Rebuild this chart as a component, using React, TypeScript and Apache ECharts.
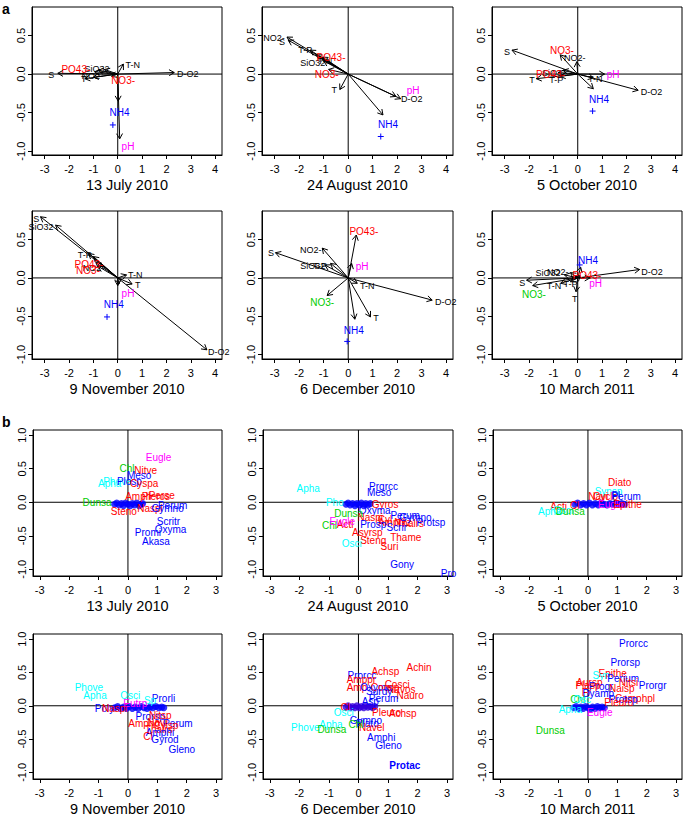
import React, { useEffect, useRef } from "react";
import * as echarts from "echarts";

type Arrow = [string, number, number];
type Label = [string, number, number, string];
type Pt = [number, number];

const COLORS: Record<string, string> = {
  k: "#000000",
  r: "#ff0000",
  b: "#0000ff",
  g: "#00cd00",
  c: "#00ffff",
  m: "#ff00ff",
};
const FONT = "'Liberation Sans', Arial, Helvetica, sans-serif";

const dateTitles = ["13 July 2010", "24 August 2010", "5 October 2010", "9 November 2010", "6 December 2010", "10 March 2011"];
const envXTicks = [-3, -2, -1, 0, 1, 2, 3, 4];
const envYTicks = [-1, -0.5, 0, 0.5];
const spXTicks = [-3, -2, -1, 0, 1, 2, 3];
const spYTicks = [-1, -0.5, 0, 0.5, 1];

// ---------- a: environmental vectors ----------
const julyArrows: Arrow[] = [
  ["D-O2", 2.32, 0.02], ["S", -2.46, 0.01], ["T-N", 0.23, 0.13], ["pH", 0.08, -0.84], ["NH4", 0.02, -0.35],
  ["T", -1.35, -0.06], ["PO43-", -0.95, 0.03], ["SiO32", -0.55, 0.06], ["NO2-", -0.8, 0.05], ["T-P", -1.0, -0.04], ["NO3-", -0.25, -0.03],
];
const julyEnvLabels: Label[] = [
  ["D-O2", 2.87, 0.0, "k"], ["S", -2.73, -0.01, "k"], ["T-N", 0.62, 0.12, "k"], ["T", -1.4, -0.06, "k"],
  ["NO2-", -1.05, -0.02, "k"], ["SiO32", -0.85, 0.07, "k"], ["PO43-", -1.72, 0.06, "r"], ["NO3-", 0.22, -0.08, "r"],
  ["NH4", 0.07, -0.5, "b"], ["pH", 0.42, -0.94, "m"],
];
const julyNH4: Pt[] = [[-0.2, -0.66]];

const augArrows: Arrow[] = [
  ["NO2-", -2.5, 0.48], ["S", -2.45, 0.44], ["T-P", -1.55, 0.31], ["T-N", -1.3, 0.25], ["PO43-", -1.05, 0.22], ["SiO32", -1.0, 0.17],
  ["NO3-", -0.8, 0.06], ["T", -0.34, -0.2], ["D-O2", 2.14, -0.32], ["pH", 1.95, -0.29], ["NH4", 1.42, -0.53],
];
const augEnvLabels: Label[] = [
  ["NO2-", -3.03, 0.47, "k"], ["S", -2.7, 0.41, "k"], ["T-P", -1.75, 0.31, "k"], ["SiO32", -1.45, 0.14, "k"], ["T-N", -0.95, 0.17, "k"],
  ["PO43-", -0.7, 0.22, "r"], ["NO3-", -0.88, -0.01, "r"], ["T", -0.57, -0.21, "k"], ["pH", 2.65, -0.21, "m"],
  ["D-O2", 2.6, -0.32, "k"], ["NH4", 1.63, -0.66, "b"],
];
const augNH4: Pt[] = [[1.33, -0.81]];

const octArrows: Arrow[] = [
  ["S", -2.7, 0.31], ["NO3-", -0.72, 0.25], ["NO2-", -0.04, 0.16], ["PO43-", -0.8, 0.02], ["SiO32", -0.6, 0.05], ["T", -1.7, -0.06],
  ["T-P", -0.72, -0.03], ["T-N", 0.64, -0.05], ["pH", 1.1, 0.0], ["D-O2", 2.48, -0.21], ["NH4", 0.64, -0.19],
];
const octEnvLabels: Label[] = [
  ["S", -2.9, 0.28, "k"], ["NO3-", -0.65, 0.3, "r"], ["NO2-", -0.12, 0.21, "k"], ["SiO32", -0.95, 0.02, "k"], ["PO43-", -1.12, 0.0, "r"],
  ["T", -1.88, -0.08, "k"], ["T-P", -0.88, -0.08, "k"], ["T-N", 0.72, -0.06, "k"], ["pH", 1.45, -0.01, "m"],
  ["D-O2", 3.03, -0.23, "k"], ["NH4", 0.87, -0.33, "b"],
];
const octNH4: Pt[] = [[0.61, -0.48]];

const novArrows: Arrow[] = [
  ["S", -3.17, 0.8], ["SiO32", -2.55, 0.69], ["T-P", -1.2, 0.32], ["NO2-", -1.0, 0.28], ["PO43-", -0.9, 0.2], ["NO3-", -0.8, 0.15],
  ["T-N", 0.36, 0.04], ["T", 0.59, -0.08], ["pH", 0.05, -0.08], ["D-O2", 3.66, -0.94], ["NH4", 0.0, -0.1],
];
const novEnvLabels: Label[] = [
  ["S", -3.35, 0.77, "k"], ["SiO32", -3.15, 0.67, "k"], ["T-P", -1.35, 0.3, "k"], ["NO2-", -1.0, 0.13, "k"],
  ["PO43-", -1.18, 0.17, "r"], ["NO3-", -1.22, 0.1, "r"], ["T-N", 0.72, 0.04, "k"], ["T", 0.82, -0.09, "k"],
  ["pH", 0.42, -0.21, "m"], ["D-O2", 4.15, -0.97, "k"], ["NH4", -0.16, -0.35, "b"],
];
const novNH4: Pt[] = [[-0.44, -0.51]];

const decArrows: Arrow[] = [
  ["S", -2.97, 0.33], ["NO2-", -1.06, 0.39], ["SiO32", -0.72, 0.19], ["T-P", -0.95, 0.17], ["PO43-", 0.33, 0.56], ["pH", 0.14, 0.19],
  ["T-N", 0.37, -0.07], ["D-O2", 3.43, -0.29], ["T", 0.91, -0.51], ["NH4", 0.27, -0.54], ["NO3-", -0.86, -0.23],
];
const decEnvLabels: Label[] = [
  ["S", -3.15, 0.33, "k"], ["NO2-", -1.53, 0.37, "k"], ["SiO32", -1.45, 0.15, "k"], ["T-P", -1.15, 0.16, "k"],
  ["PO43-", 0.64, 0.61, "r"], ["pH", 0.57, 0.15, "m"], ["T-N", 0.78, -0.11, "k"], ["D-O2", 3.98, -0.31, "k"],
  ["T", 1.14, -0.53, "k"], ["NH4", 0.23, -0.69, "b"], ["NO3-", -1.06, -0.32, "g"],
];
const decNH4: Pt[] = [[-0.04, -0.83]];

const marArrows: Arrow[] = [
  ["D-O2", 2.54, 0.11], ["S", -2.1, -0.03], ["NO3-", -1.85, -0.1], ["T-N", -0.7, -0.07], ["SiO32", -0.55, 0.04], ["NO2-", -0.3, 0.07],
  ["PO43-", 0.1, 0.03], ["NH4", 0.12, 0.14], ["pH", 0.5, 0.0], ["T", -0.07, -0.18], ["T-P", -0.3, -0.05],
];
const marEnvLabels: Label[] = [
  ["D-O2", 3.05, 0.08, "k"], ["S", -2.28, -0.06, "k"], ["NO3-", -1.8, -0.22, "g"], ["T-N", -0.97, -0.11, "k"],
  ["SiO32", -1.22, 0.06, "k"], ["NO2-", -0.82, 0.08, "k"], ["T-P", -0.3, -0.08, "k"], ["PO43-", 0.38, 0.03, "r"],
  ["NH4", 0.42, 0.23, "b"], ["pH", 0.73, -0.07, "m"], ["T", -0.12, -0.27, "k"],
];
const marNH4: Pt[] = [[0.08, 0.17]];

// ---------- b: species scores ----------
const julySpecies: Label[] = [
  ["Eugle", 1.04, 0.67, "m"], ["Chl", -0.03, 0.5, "g"], ["Nitve", 0.6, 0.47, "r"], ["Meso", 0.38, 0.4, "b"],
  ["Apha", -0.62, 0.28, "c"], ["Phove", -0.36, 0.31, "c"], ["Plosp", 0.05, 0.31, "b"], ["Cyspa", 0.55, 0.28, "r"],
  ["Amph", 0.35, 0.08, "r"], ["Pleros", 0.95, 0.09, "r"], ["Perse", 1.15, 0.1, "r"], ["Dunsa", -1.05, -0.01, "g"],
  ["Steno", -0.14, -0.14, "r"], ["Naspi", 0.75, -0.1, "r"], ["Perum", 1.52, -0.05, "b"], ["Gymno", 1.35, -0.1, "b"],
  ["Scritr", 1.38, -0.28, "b"], ["Oxyma", 1.45, -0.4, "b"], ["Promi", 0.68, -0.45, "b"], ["Akasa", 0.95, -0.58, "b"],
];
const julyCluster: Pt[] = [
  [-0.45, -0.03], [-0.38, -0.01], [-0.3, -0.04], [-0.22, -0.02], [-0.15, -0.05], [-0.08, -0.01], [0.0, -0.03],
  [0.08, -0.05], [0.15, -0.02], [0.22, -0.04], [0.3, -0.01], [0.38, -0.05], [0.45, -0.03], [0.5, -0.02],
];

const augSpecies: Label[] = [
  ["Apha", -1.7, 0.21, "c"], ["Prgrcc", 0.85, 0.24, "b"], ["Meso", 0.7, 0.15, "b"], ["Pho", -0.8, -0.01, "c"],
  ["Gyros", 0.9, -0.03, "r"], ["Oxyma", 0.55, -0.12, "b"], ["Dunsa", -0.33, -0.17, "g"], ["Naspi", 0.4, -0.22, "r"],
  ["Cyl", 0.9, -0.25, "r"], ["Amph", 1.1, -0.3, "r"], ["Nitz", 1.5, -0.3, "r"], ["Thalrs", 1.75, -0.32, "r"],
  ["Perum", 1.58, -0.2, "b"], ["Gymno", 1.93, -0.23, "b"], ["Protsp", 2.45, -0.3, "b"], ["Scrir", 1.3, -0.38, "b"],
  ["Chl", -0.98, -0.34, "g"], ["Acti", -0.45, -0.33, "r"], ["Eugle", -0.55, -0.29, "m"], ["Prosp", 0.5, -0.33, "b"],
  ["Asyrsp", 0.3, -0.45, "r"], ["Thame", 1.6, -0.53, "r"], ["Steng", 0.5, -0.57, "r"], ["Osci", -0.23, -0.62, "c"],
  ["Suri", 1.05, -0.66, "r"], ["Gony", 1.48, -0.93, "b"], ["Pro", 3.05, -1.07, "b"],
];
const augCluster: Pt[] = [
  [-0.42, -0.03], [-0.35, -0.01], [-0.28, -0.04], [-0.2, -0.02], [-0.12, -0.05], [-0.05, -0.02], [0.03, -0.04],
  [0.1, -0.01], [0.18, -0.05], [0.25, -0.02], [0.32, -0.04], [0.4, -0.02],
];

const octSpecies: Label[] = [
  ["Diato", 1.08, 0.3, "r"], ["Synsp", 0.7, 0.16, "c"], ["Navi", 0.35, 0.08, "r"], ["Cyclo", 0.6, 0.09, "r"],
  ["Pl", 0.95, 0.1, "b"], ["Perum", 1.3, 0.09, "b"], ["Euglo", 0.78, -0.03, "m"], ["Epithe", 1.35, -0.04, "r"],
  ["Acti", -1.0, -0.06, "r"], ["Cl", -0.45, -0.05, "r"], ["Apha", -1.3, -0.14, "c"], ["Osci", -0.85, -0.13, "c"],
  ["Dunsa", -0.6, -0.14, "g"],
];
const octCluster: Pt[] = [
  [-0.45, -0.03], [-0.35, -0.01], [-0.25, -0.04], [-0.15, -0.02], [-0.05, -0.04], [0.05, -0.01], [0.15, -0.04],
  [0.25, -0.02], [0.35, -0.04], [0.45, -0.01], [0.55, -0.03], [0.65, -0.04], [0.75, -0.02], [0.85, -0.03],
  [0.95, -0.01], [1.05, -0.03], [1.15, -0.02], [1.25, -0.03],
];

const novSpecies: Label[] = [
  ["Phove", -1.33, 0.28, "c"], ["Apha", -1.12, 0.15, "c"], ["Osci", 0.08, 0.15, "c"], ["Prorli", 1.21, 0.11, "b"],
  ["Sp", 0.75, 0.08, "c"], ["Eutrp", 0.25, 0.04, "m"], ["Poly", -0.8, -0.04, "b"], ["Naspi", -0.45, -0.04, "r"],
  ["Prorsp", 0.76, -0.16, "b"], ["Nitsp", 1.1, -0.14, "r"], ["Ampho", 0.55, -0.27, "r"], ["Navi", 1.0, -0.25, "r"],
  ["Perum", 1.7, -0.26, "b"], ["Cylsp", 1.3, -0.3, "r"], ["Thalrs", 1.05, -0.35, "r"], ["Amphi", 1.09, -0.4, "b"],
  ["Cl", 0.68, -0.46, "r"], ["Gyrod", 1.26, -0.51, "b"], ["Gleno", 1.83, -0.66, "b"],
];
const novCluster: Pt[] = [
  [-0.45, -0.03], [-0.35, -0.01], [-0.25, -0.04], [-0.15, -0.02], [-0.05, -0.04], [0.05, -0.01], [0.15, -0.04],
  [0.25, -0.02], [0.35, -0.04], [0.45, -0.01], [0.55, -0.03], [0.65, -0.04], [0.75, -0.02], [0.85, -0.03],
  [0.95, -0.01], [1.05, -0.03], [1.15, -0.02], [1.22, -0.03],
];

const decSpecies: Label[] = [
  ["Achin", 2.05, 0.58, "r"], ["Achsp", 0.91, 0.51, "r"], ["Prorcc", 0.12, 0.45, "b"], ["Amppr", 0.1, 0.4, "r"],
  ["Cosci", 1.31, 0.32, "r"], ["Amp", -0.05, 0.27, "r"], ["Oxyma", 0.6, 0.28, "b"], ["Cocsp", 0.9, 0.28, "r"],
  ["Navos", 1.45, 0.25, "r"], ["Surdy", 0.7, 0.22, "b"], ["Nauro", 1.75, 0.16, "r"], ["Perum", 0.85, 0.11, "b"],
  ["Asp", 0.4, 0.06, "b"], ["Cl", -0.45, -0.02, "r"], ["Achsp", 1.5, -0.12, "r"], ["Pleuro", 0.95, -0.1, "r"],
  ["Osci", -0.5, -0.1, "c"], ["Gymno", 0.25, -0.22, "b"], ["Plato", 0.3, -0.27, "b"], ["Navel", 0.45, -0.33, "r"],
  ["Chl", -0.08, -0.28, "g"], ["Apha", -0.93, -0.28, "c"], ["Phove", -1.8, -0.32, "c"], ["Dunsa", -0.9, -0.35, "g"],
  ["Amphi", 0.77, -0.47, "b"], ["Gleno", 1.02, -0.59, "b"], ["Protac", 1.57, -0.89, "b"],
];
const decCluster: Pt[] = [
  [-0.42, -0.02], [-0.35, 0.0], [-0.28, -0.03], [-0.2, -0.01], [-0.12, -0.03], [-0.05, 0.0], [0.03, -0.03],
  [0.1, -0.01], [0.18, -0.03], [0.25, 0.0], [0.32, -0.02], [0.4, -0.01], [0.48, -0.03], [0.55, -0.01],
];

const marSpecies: Label[] = [
  ["Prorcc", 1.55, 0.93, "b"], ["Prorsp", 1.27, 0.65, "b"], ["Epithe", 0.84, 0.48, "r"], ["Syn", 0.45, 0.45, "c"],
  ["Perium", 1.2, 0.41, "b"], ["Nitsi", 1.38, 0.35, "r"], ["Prorgr", 2.2, 0.31, "b"], ["Aursp", 0.05, 0.35, "r"],
  ["Progr", 0.45, 0.29, "b"], ["Naisp", 1.15, 0.26, "r"], ["Plasp", 0.0, 0.3, "r"], ["Fr", -0.05, 0.2, "r"],
  ["Dyamp", 0.35, 0.18, "b"], ["Camphpl", 1.6, 0.11, "r"], ["Protsp", 1.2, 0.1, "b"], ["Pleuro", 1.05, 0.05, "r"],
  ["Chl", -0.35, 0.1, "g"], ["Osc", -0.2, 0.1, "c"], ["Eugle", 0.4, -0.1, "m"], ["Dunsa", -1.28, -0.37, "g"],
  ["Apha", -0.6, -0.05, "c"],
];
const marCluster: Pt[] = [
  [-0.48, -0.03], [-0.4, -0.01], [-0.32, -0.04], [-0.24, -0.02], [-0.16, -0.04], [-0.08, -0.01], [0.0, -0.03],
  [0.08, -0.05], [0.16, -0.02], [0.24, -0.04], [0.32, -0.01], [0.4, -0.03], [0.48, -0.02], [0.56, -0.03],
];

const envArrowSets = [julyArrows, augArrows, octArrows, novArrows, decArrows, marArrows];
const envLabelSets = [julyEnvLabels, augEnvLabels, octEnvLabels, novEnvLabels, decEnvLabels, marEnvLabels];
const envPointSets = [julyNH4, augNH4, octNH4, novNH4, decNH4, marNH4];
const speciesSets = [julySpecies, augSpecies, octSpecies, novSpecies, decSpecies, marSpecies];
const clusterSets = [julyCluster, augCluster, octCluster, novCluster, decCluster, marCluster];

function buildOption() {
  const grids: any[] = [];
  const xAxes: any[] = [];
  const yAxes: any[] = [];
  const series: any[] = [];
  const lefts = [32, 262, 492];
  const widths = [190, 191, 190];

  const addPanel = (
    idx: number, left: number, top: number, width: number, height: number,
    xr: [number, number], yr: [number, number], xt: number[], yt: number[], title: string
  ) => {
    grids.push({ left, top, width, height, show: true, borderColor: "#000", borderWidth: 1, backgroundColor: "transparent" });
    xAxes.push({
      gridIndex: idx, type: "value", min: xr[0], max: xr[1],
      axisLine: { show: true, onZero: false, lineStyle: { color: "#000", width: 1 } },
      axisTick: { show: true, customValues: xt, length: 4, inside: false, lineStyle: { color: "#000" } },
      axisLabel: {
        show: true, customValues: xt, color: "#000", fontSize: 11, fontFamily: FONT, margin: 8,
        formatter: (v: number) => String(Math.round(v)),
      },
      splitLine: { show: false },
      name: title, nameLocation: "middle", nameGap: 22,
      nameTextStyle: { color: "#000", fontSize: 14.5, fontFamily: FONT },
    });
    yAxes.push({
      gridIndex: idx, type: "value", min: yr[0], max: yr[1],
      axisLine: { show: true, onZero: false, lineStyle: { color: "#000", width: 1 } },
      axisTick: { show: true, customValues: yt, length: 4, inside: false, lineStyle: { color: "#000" } },
      axisLabel: {
        show: true, customValues: yt, color: "#000", fontSize: 11, fontFamily: FONT, margin: 6, rotate: 90,
        formatter: (v: number) => v.toFixed(1),
      },
      splitLine: { show: false },
    });
    series.push({
      type: "custom", xAxisIndex: idx, yAxisIndex: idx, silent: true, z: 1,
      data: [[0, 0]],
      renderItem: (params: any, api: any) => {
        const cs = params.coordSys;
        const o = api.coord([0, 0]);
        return {
          type: "group",
          children: [
            { type: "line", shape: { x1: cs.x, y1: o[1], x2: cs.x + cs.width, y2: o[1] }, style: { stroke: "#000", lineWidth: 1 } },
            { type: "line", shape: { x1: o[0], y1: cs.y, x2: o[0], y2: cs.y + cs.height }, style: { stroke: "#000", lineWidth: 1 } },
          ],
        };
      },
    });
  };

  const labelSeries = (idx: number, labels: Label[], sizeFor: (c: string) => number) => ({
    type: "custom", xAxisIndex: idx, yAxisIndex: idx, silent: true, z: 4,
    data: labels.map((l) => [l[1], l[2]]),
    renderItem: (params: any, api: any) => {
      const l = labels[params.dataIndex];
      const p = api.coord([api.value(0), api.value(1)]);
      return {
        type: "text", x: p[0], y: p[1],
        style: {
          text: l[0], fill: COLORS[l[3]], fontSize: sizeFor(l[3]), fontFamily: FONT,
          fontWeight: l[0] === "Protac" ? "bold" : "normal",
          align: "center", verticalAlign: "middle", textAlign: "center", textVerticalAlign: "middle",
        },
      };
    },
  });

  // a panels
  for (let i = 0; i < 6; i++) {
    const idx = i;
    const row = Math.floor(i / 3), col = i % 3;
    const top = row === 0 ? 7 : 211;
    addPanel(idx, lefts[col], top, widths[col], 148, [-3.52, 4.28], row === 0 ? [-1.05, 0.87] : [-1.06, 0.875], envXTicks, envYTicks, dateTitles[i]);
    const arrows = envArrowSets[i];
    series.push({
      type: "custom", xAxisIndex: idx, yAxisIndex: idx, silent: true, z: 2,
      data: arrows.map((a) => [a[1], a[2]]),
      renderItem: (params: any, api: any) => {
        const o = api.coord([0, 0]);
        const e = api.coord([api.value(0), api.value(1)]);
        const ang = Math.atan2(e[1] - o[1], e[0] - o[0]);
        const L = 6, A = Math.PI / 6;
        const h1 = [e[0] - L * Math.cos(ang - A), e[1] - L * Math.sin(ang - A)];
        const h2 = [e[0] - L * Math.cos(ang + A), e[1] - L * Math.sin(ang + A)];
        return {
          type: "group",
          children: [
            { type: "line", shape: { x1: o[0], y1: o[1], x2: e[0], y2: e[1] }, style: { stroke: "#000", lineWidth: 1 } },
            { type: "polyline", shape: { points: [h1, e, h2] }, style: { stroke: "#000", fill: "none", lineWidth: 1 } },
          ],
        };
      },
    });
    const pts = envPointSets[i];
    series.push({
      type: "custom", xAxisIndex: idx, yAxisIndex: idx, silent: true, z: 3,
      data: pts.map((p) => [p[0], p[1]]),
      renderItem: (params: any, api: any) => {
        const p = api.coord([api.value(0), api.value(1)]);
        const s = 3;
        return {
          type: "group",
          children: [
            { type: "line", shape: { x1: p[0] - s, y1: p[1], x2: p[0] + s, y2: p[1] }, style: { stroke: "#0000ff", lineWidth: 1 } },
            { type: "line", shape: { x1: p[0], y1: p[1] - s, x2: p[0], y2: p[1] + s }, style: { stroke: "#0000ff", lineWidth: 1 } },
          ],
        };
      },
    });
    series.push(labelSeries(idx, envLabelSets[i], (c) => (c === "k" ? 9 : 10)));
  }

  // b panels
  const bLefts = [33, 263, 493];
  const bWidths = [189, 190, 189];
  for (let i = 0; i < 6; i++) {
    const idx = 6 + i;
    const row = Math.floor(i / 3), col = i % 3;
    const top = row === 0 ? 430 : 634;
    addPanel(idx, bLefts[col], top, bWidths[col], row === 0 ? 146 : 145, [-3.23, 3.2], [-1.1, 1.078], spXTicks, spYTicks, dateTitles[i]);
    series.push({
      type: "scatter", xAxisIndex: idx, yAxisIndex: idx, silent: true, z: 3,
      symbol: "circle", symbolSize: 7,
      itemStyle: { color: i === 4 ? "#3300dd" : "#0000ff" },
      data: clusterSets[i],
    });
    series.push(labelSeries(idx, speciesSets[i], () => 10));
  }

  return {
    animation: false,
    backgroundColor: "#ffffff",
    grid: grids,
    xAxis: xAxes,
    yAxis: yAxes,
    series,
    graphic: [
      { type: "text", left: 2, top: 2, style: { text: "a", fontSize: 14, fontWeight: "bold", fontFamily: FONT, fill: "#000" } },
      { type: "text", left: 2, top: 415, style: { text: "b", fontSize: 14, fontWeight: "bold", fontFamily: FONT, fill: "#000" } },
    ],
  };
}

export default function App() {
  const ref = useRef<HTMLDivElement>(null);
  useEffect(() => {
    document.body.style.margin = "0";
    if (!ref.current) return;
    const chart = echarts.init(ref.current, null, { renderer: "svg" });
    chart.setOption(buildOption() as any);
    return () => chart.dispose();
  }, []);
  return <div ref={ref} style={{ position: "absolute", left: 0, top: 0, width: 685, height: 820 }} />;
}
